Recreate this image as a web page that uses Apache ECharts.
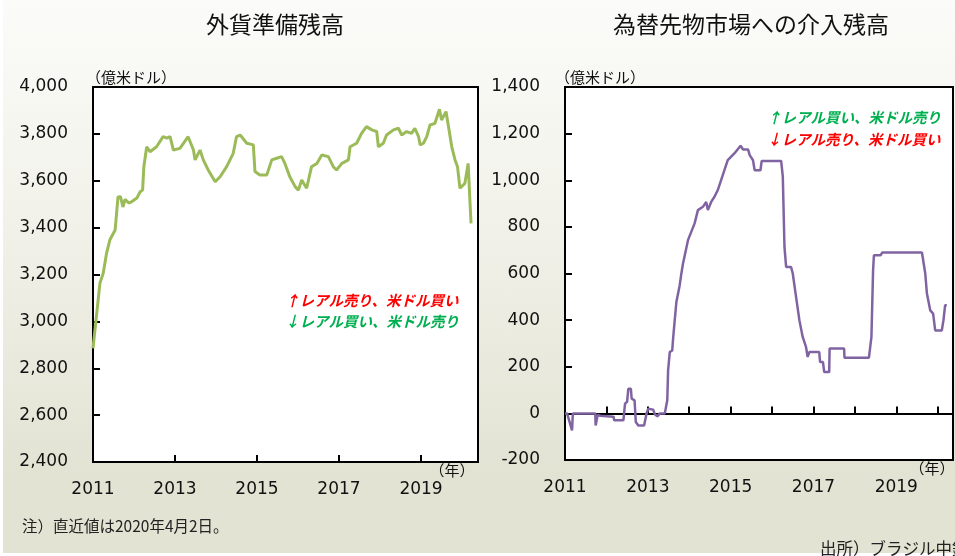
<!DOCTYPE html>
<html>
<head>
<meta charset="utf-8">
<script src="https://cdn.jsdelivr.net/npm/echarts@6/dist/echarts.min.js"></script>
<style>
  html, body { margin: 0; padding: 0; background: #fff; }
  #bg { position: absolute; left: 3px; top: 0; width: 952px; height: 553px;
        background: linear-gradient(to bottom, #fbfbf9 0%, #f3f3ec 35%, #e3e3d4 85%, #e3e3d4 100%); }
  #chart { position: absolute; left: 0; top: 0; width: 955px; height: 556px; }
</style>
</head>
<body>
<div id="bg"></div>
<div id="chart"></div>
<script>
// 外貨準備残高（億米ドル）
var reserveYears = [2011.00, 2011.17, 2011.25, 2011.33, 2011.41, 2011.54, 2011.61, 2011.67, 2011.73, 2011.78,
  2011.82, 2011.88, 2011.94, 2012.07, 2012.15, 2012.21, 2012.24, 2012.31, 2012.39, 2012.55,
  2012.71, 2012.80, 2012.88, 2012.96, 2013.12, 2013.32, 2013.45, 2013.49, 2013.61, 2013.69,
  2013.81, 2013.98, 2014.10, 2014.26, 2014.42, 2014.50, 2014.59, 2014.75, 2014.91, 2014.95,
  2015.07, 2015.24, 2015.36, 2015.48, 2015.60, 2015.68, 2015.80, 2015.93, 2016.01, 2016.09,
  2016.21, 2016.33, 2016.46, 2016.58, 2016.74, 2016.86, 2016.94, 2017.07, 2017.23, 2017.27,
  2017.43, 2017.55, 2017.67, 2017.80, 2017.92, 2017.96, 2018.08, 2018.16, 2018.33, 2018.45,
  2018.53, 2018.65, 2018.77, 2018.85, 2018.94, 2018.98, 2019.06, 2019.14, 2019.22, 2019.34,
  2019.45, 2019.50, 2019.61, 2019.67, 2019.75, 2019.83, 2019.89, 2019.95, 2020.07, 2020.11,
  2020.15, 2020.20, 2020.22];
var reserveValues = [2885, 3164, 3206, 3290, 3347, 3390, 3531, 3532, 3488, 3520,
  3526, 3505, 3510, 3526, 3553, 3560, 3660, 3745, 3724, 3745,
  3788, 3782, 3788, 3731, 3738, 3788, 3731, 3689, 3731, 3689,
  3646, 3596, 3617, 3660, 3717, 3788, 3795, 3760, 3753, 3639,
  3625, 3625, 3689, 3696, 3703, 3674, 3617, 3575, 3560, 3603,
  3568, 3660, 3674, 3710, 3703, 3660, 3646, 3674, 3689, 3745,
  3760, 3802, 3831, 3817, 3810, 3745, 3760, 3795, 3817, 3824,
  3795, 3810, 3802, 3824, 3788, 3753, 3760, 3788, 3838, 3845,
  3905, 3859, 3895, 3831, 3745, 3689, 3660, 3568, 3589, 3589,
  3674, 3489, 3418];

// 為替先物市場への介入残高（億米ドル）
var swapYears = [2011.00, 2011.05, 2011.10, 2011.17, 2011.19, 2011.73, 2011.74, 2011.76, 2011.79, 2011.85,
  2012.17, 2012.19, 2012.41, 2012.45, 2012.50, 2012.53, 2012.59, 2012.61, 2012.68, 2012.71,
  2012.77, 2012.91, 2012.97, 2013.01, 2013.13, 2013.17, 2013.23, 2013.29, 2013.41, 2013.47,
  2013.49, 2013.53, 2013.59, 2013.61, 2013.65, 2013.69, 2013.77, 2013.81, 2013.85, 2013.97,
  2014.13, 2014.21, 2014.33, 2014.41, 2014.45, 2014.53, 2014.61, 2014.69, 2014.93, 2015.09,
  2015.24, 2015.30, 2015.42, 2015.46, 2015.54, 2015.58, 2015.72, 2015.75, 2016.22, 2016.26,
  2016.30, 2016.34, 2016.46, 2016.50, 2016.58, 2016.66, 2016.74, 2016.82, 2016.86, 2016.90,
  2017.14, 2017.16, 2017.23, 2017.26, 2017.38, 2017.39, 2017.74, 2017.75, 2018.34, 2018.40,
  2018.44, 2018.46, 2018.62, 2018.66, 2019.62, 2019.70, 2019.74, 2019.82, 2019.89, 2019.94,
  2020.10, 2020.14, 2020.18, 2020.22];
var swapValues = [0, 0, -30, -73, 0, 0, -52, -52, -7, -10,
  -14, -30, -30, 42, 50, 106, 106, 63, 56, -37,
  -52, -52, 0, 20, 16, -4, -13, 0, 0, 56,
  185, 263, 270, 320, 400, 478, 550, 600, 643, 743,
  815, 872, 886, 907, 872, 907, 929, 958, 1086, 1115,
  1148, 1132, 1132, 1108, 1086, 1043, 1043, 1083, 1083, 1015,
  714, 628, 628, 600, 500, 400, 328, 285, 242, 263,
  263, 220, 220, 177, 177, 278, 278, 239, 239, 328,
  614, 678, 678, 690, 690, 600, 514, 442, 428, 356,
  356, 400, 464, 464];

var titles = ['外貨準備残高', '為替先物市場への介入残高'];
var unitLabel = '（億米ドル）';
var yearLabel = '（年）';
var noteText = '注）直近値は2020年4月2日。';
var sourceText = '出所）ブラジル中銀';

var jp = '"Noto Sans CJK JP"';
var num = '"DejaVu Sans"';

function zip(xs, ys) {
  return xs.map(function (x, i) { return [x, ys[i]]; });
}
function comma(v) {
  return String(v).replace(/\B(?=(\d{3})+(?!\d))/g, ',');
}
function yearFmt(v) {
  return Math.abs(v - Math.round(v)) < 1e-6 ? String(Math.round(v)) : '';
}

var chart = echarts.init(document.getElementById('chart'));

var blackLine = { show: true, lineStyle: { color: '#000', width: 2 } };
var inTick = { show: true, inside: true, length: 7, lineStyle: { color: '#000', width: 2 } };
var numLabel = { color: '#111', fontSize: 17, fontFamily: num };

chart.setOption({
  animation: false,
  title: [
    { text: titles[0], left: 270, top: 8, textAlign: 'center',
      textStyle: { fontSize: 23, fontWeight: 'normal', color: '#111', fontFamily: jp } },
    { text: titles[1], left: 746, top: 8, textAlign: 'center',
      textStyle: { fontSize: 23, fontWeight: 'normal', color: '#111', fontFamily: jp } }
  ],
  grid: [
    { left: 93, top: 87, width: 385, height: 375, show: true, backgroundColor: '#fff',
      borderColor: '#000', borderWidth: 2 },
    { left: 565, top: 87, width: 388, height: 373, show: true, backgroundColor: '#fff',
      borderColor: '#000', borderWidth: 2 }
  ],
  xAxis: [
    { type: 'value', gridIndex: 0, min: 2011, max: 2020.39, interval: 2,
      axisLine: { show: true, onZero: false, lineStyle: { color: '#000', width: 2 } },
      axisTick: inTick, splitLine: { show: false },
      axisLabel: Object.assign({ margin: 19, formatter: yearFmt, showMaxLabel: false }, numLabel) },
    { type: 'value', gridIndex: 1, min: 2011, max: 2020.37, interval: 1,
      axisLine: { show: true, onZero: true, lineStyle: { color: '#000', width: 2 } },
      axisTick: inTick, splitLine: { show: false }, axisLabel: { show: false } },
    // labels only, kept at the bottom of the frame
    { type: 'value', gridIndex: 1, min: 2011, max: 2020.37, interval: 2, position: 'bottom',
      axisLine: { show: false, onZero: false }, axisTick: { show: false }, splitLine: { show: false },
      axisLabel: Object.assign({ margin: 19, formatter: yearFmt, showMaxLabel: false }, numLabel) }
  ],
  yAxis: [
    { type: 'value', gridIndex: 0, min: 2400, max: 4000, interval: 200,
      axisLine: blackLine, axisTick: inTick, splitLine: { show: false },
      axisLabel: Object.assign({ margin: 25, formatter: comma }, numLabel) },
    { type: 'value', gridIndex: 1, min: -200, max: 1400, interval: 200,
      axisLine: blackLine, axisTick: inTick, splitLine: { show: false },
      axisLabel: Object.assign({ margin: 25, formatter: comma }, numLabel) }
  ],
  series: [
    { type: 'line', xAxisIndex: 0, yAxisIndex: 0, data: zip(reserveYears, reserveValues),
      showSymbol: false, lineStyle: { color: '#9bbb59', width: 3 } },
    { type: 'line', xAxisIndex: 1, yAxisIndex: 1, data: zip(swapYears, swapValues),
      showSymbol: false, lineStyle: { color: '#8064a2', width: 2.5 } }
  ],
  graphic: [
    { type: 'text', style: { text: unitLabel, x: 86, y: 77, fill: '#111', font: '15px ' + jp, verticalAlign: 'middle' } },
    { type: 'text', style: { text: unitLabel, x: 555, y: 77, fill: '#111', font: '15px ' + jp, verticalAlign: 'middle' } },
    { type: 'text', style: { text: yearLabel, x: 452, y: 470, fill: '#111', font: '15px ' + jp, align: 'center', verticalAlign: 'middle' } },
    { type: 'text', style: { text: yearLabel, x: 932, y: 468, fill: '#111', font: '15px ' + jp, align: 'center', verticalAlign: 'middle' } },
    { type: 'text', style: { text: '↑レアル売り、米ドル買い', x: 285, y: 300, fill: '#ff0000', font: 'italic bold 14.5px ' + jp, verticalAlign: 'middle' } },
    { type: 'text', style: { text: '↓レアル買い、米ドル売り', x: 285, y: 321, fill: '#00b050', font: 'italic bold 14.5px ' + jp, verticalAlign: 'middle' } },
    { type: 'text', style: { text: '↑レアル買い、米ドル売り', x: 767, y: 117, fill: '#00b050', font: 'italic bold 14.5px ' + jp, verticalAlign: 'middle' } },
    { type: 'text', style: { text: '↓レアル売り、米ドル買い', x: 767, y: 139, fill: '#ff0000', font: 'italic bold 14.5px ' + jp, verticalAlign: 'middle' } },
    { type: 'text', style: { text: noteText, x: 22, y: 526, fill: '#222', font: '15.5px ' + jp, verticalAlign: 'middle' } },
    { type: 'text', style: { text: sourceText, x: 820, y: 549, fill: '#222', font: '16.5px ' + jp, verticalAlign: 'middle' } }
  ]
});
</script>
</body>
</html>
